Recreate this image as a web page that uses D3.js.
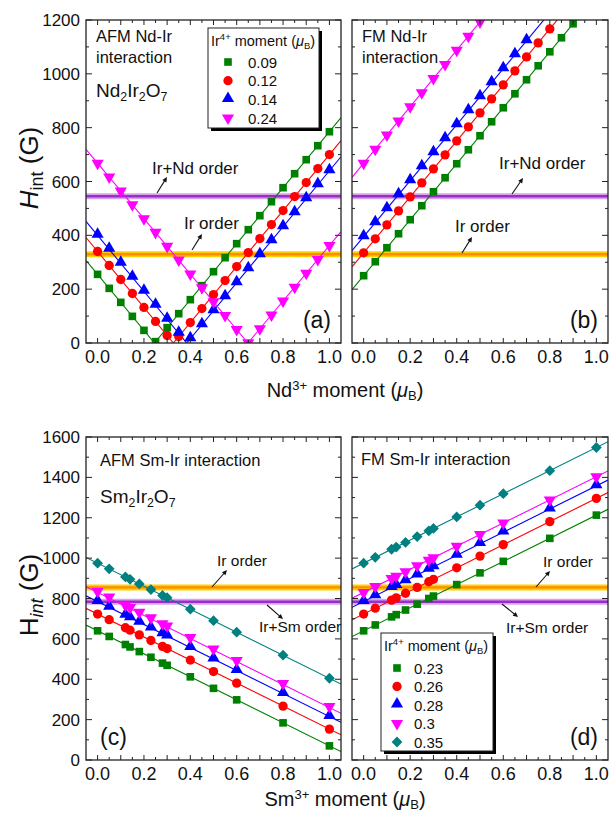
<!DOCTYPE html>
<html>
<head>
<meta charset="utf-8">
<script src="https://cdn.jsdelivr.net/npm/d3@7"></script>
<style>
  body { margin: 0; background: #fff; }
  text { font-family: "Liberation Sans", Arial, sans-serif; fill: #111; }
</style>
</head>
<body>
<div id="chart"></div>
<script>
// ---- data ----
var xTicks = [0, 0.2, 0.4, 0.6, 0.8, 1.0]

// Nd panels: Nd moment steps of 0.05
var mNd = [0, 0.05, 0.1, 0.15, 0.2, 0.25, 0.3, 0.35, 0.4, 0.45, 0.5, 0.55, 0.6, 0.65, 0.7, 0.75, 0.8, 0.85, 0.9, 0.95, 1.0]
var ndLabels = ['0.09', '0.12', '0.14', '0.24']

var afmNd009 = [255, 203, 151, 99, 47, 5, 57, 109, 161, 213, 265, 317, 369, 421, 473, 525, 577, 629, 681, 733, 785]
var afmNd012 = [340, 288, 236, 184, 132, 80, 28, 24, 76, 128, 180, 232, 284, 336, 388, 440, 492, 544, 596, 648, 700]
var afmNd014 = [400, 348, 296, 244, 192, 140, 88, 36, 16, 68, 120, 172, 224, 276, 328, 380, 432, 484, 536, 588, 640]
var afmNd024 = [668, 617, 565, 514, 462, 411, 359, 308, 256, 205, 153, 102, 50, 1, 53, 104, 156, 207, 259, 310, 362]

var fmNd009 = [250, 302, 354, 406, 458, 510, 562, 614, 666, 718, 770, 822, 874, 926, 978, 1030, 1082, 1134, 1186]
var fmNd012 = [335, 387, 439, 491, 543, 595, 647, 699, 751, 803, 855, 907, 959, 1011, 1063, 1115, 1167]
var fmNd014 = [395, 447, 499, 551, 603, 655, 707, 759, 811, 863, 915, 967, 1019, 1071, 1123]
var fmNd024 = [668, 720, 773, 825, 878, 930, 983, 1035, 1088, 1140, 1193]

// fitted lines (intercept, slope) for Nd panels
var afmNdFitA = [255, 340, 400, 668]
var afmNdFitB = [1040, 1040, 1040, 1030]
var fmNdFitA = [250, 335, 395, 668]
var fmNdFitB = [1040, 1040, 1040, 1050]

// Sm panels
var mSm = [0, 0.05, 0.12, 0.14, 0.18, 0.23, 0.28, 0.3, 0.4, 0.5, 0.6, 0.8, 1.0]
var smLabels = ['0.23', '0.26', '0.28', '0.3', '0.35']

var afmSm023 = [640, 612, 572, 560, 537, 509, 480, 469, 412, 355, 298, 184, 70]
var afmSm026 = [723, 695, 655, 643, 620, 592, 563, 552, 495, 438, 381, 267, 153]
var afmSm028 = [785, 757, 717, 705, 682, 654, 625, 614, 557, 500, 443, 329, 215]
var afmSm030 = [835, 807, 767, 755, 732, 704, 675, 664, 607, 550, 493, 379, 265]
var afmSm035 = [975, 947, 907, 895, 872, 844, 815, 804, 747, 690, 633, 519, 405]

var fmSm023 = [640, 669, 709, 720, 743, 772, 800, 812, 869, 927, 984, 1098, 1213]
var fmSm026 = [723, 752, 792, 803, 826, 855, 883, 895, 952, 1010, 1067, 1181, 1296]
var fmSm028 = [785, 814, 854, 865, 888, 917, 945, 957, 1014, 1072, 1129, 1243, 1358]
var fmSm030 = [830, 859, 899, 910, 933, 962, 990, 1002, 1059, 1117, 1174, 1288, 1403]
var fmSm035 = [975, 1004, 1044, 1055, 1078, 1107, 1135, 1147, 1204, 1262, 1319, 1433, 1548]

var smFitA = [640, 723, 785, 830, 975]
var afmSmFitB = [570, 570, 570, 570, 570]
var fmSmFitB = [573, 573, 573, 573, 573]

// order bands
var ndIrOrder = 330, ndIrNdOrder = 545
var smIrOrder = 855, smIrSmOrder = 784

var colors = ['#008000', '#ff0000', '#0000ff', '#ff00ff', '#008080']
var symbols = ['square', 'circle', 'up', 'down', 'diamond']

// ---- drawing ----
var width = 609, height = 816

var svg = d3.select('#chart')
  .append('svg')
  .attr('width', width)
  .attr('height', height)

function symbolPath(kind) {
  var s = d3.symbol()
  if (kind === 'square') return s.type(d3.symbolSquare).size(58)()
  if (kind === 'circle') return s.type(d3.symbolCircle).size(68)()
  if (kind === 'diamond') return s.type(d3.symbolSquare).size(58)()
  return s.type(d3.symbolTriangle).size(64)()
}

function marker(g, kind, color, x, y) {
  var t = 'translate(' + x + ',' + y + ')'
  if (kind === 'down') t += ' rotate(180)'
  if (kind === 'up') t += ' translate(0,-1)'
  if (kind === 'diamond') t += ' rotate(45)'
  g.append('path')
    .attr('d', symbolPath(kind))
    .attr('transform', t)
    .attr('fill', color)
}

function drawPanel(cfg) {
  var x = d3.scaleLinear().domain([-0.05, 1.05]).range([cfg.x0, cfg.x1])
  var y = d3.scaleLinear().domain([0, cfg.ymax]).range([cfg.y1, cfg.y0])
  var g = svg.append('g')

  var clipId = 'clip' + cfg.id
  svg.append('clipPath').attr('id', clipId)
    .append('rect')
    .attr('x', cfg.x0).attr('y', cfg.y0)
    .attr('width', cfg.x1 - cfg.x0).attr('height', cfg.y1 - cfg.y0)

  var inner = g.append('g').attr('clip-path', 'url(#' + clipId + ')')

  // order bands
  cfg.bands.forEach(function(b) {
    inner.append('line')
      .attr('x1', cfg.x0).attr('x2', cfg.x1)
      .attr('y1', y(b.value)).attr('y2', y(b.value))
      .attr('stroke', b.outer).attr('stroke-width', 6)
    inner.append('line')
      .attr('x1', cfg.x0).attr('x2', cfg.x1)
      .attr('y1', y(b.value)).attr('y2', y(b.value))
      .attr('stroke', b.inner).attr('stroke-width', 2.4)
  })

  var line = d3.line().x(function(d) { return x(d[0]) }).y(function(d) { return y(d[1]) })

  // fit lines
  cfg.series.forEach(function(s, i) {
    var A = cfg.fitA[i], B = cfg.fitB[i]
    var pts
    if (cfg.mode === 'afm-v') {
      pts = [[-0.05, A + 0.05 * B], [A / B, 0], [1.05, 1.05 * B - A]]
    } else if (cfg.mode === 'afm') {
      pts = [[-0.05, A + 0.05 * B], [1.05, A - 1.05 * B]]
    } else {
      pts = [[-0.05, A - 0.05 * B], [1.05, A + 1.05 * B]]
    }
    inner.append('path')
      .attr('d', line(pts))
      .attr('fill', 'none')
      .attr('stroke', colors[i])
      .attr('stroke-width', 1.1)
  })

  // data markers
  cfg.series.forEach(function(s, i) {
    s.forEach(function(v, j) {
      marker(inner, symbols[i], colors[i], x(cfg.m[j]), y(v))
    })
  })

  // frame
  g.append('rect')
    .attr('x', cfg.x0).attr('y', cfg.y0)
    .attr('width', cfg.x1 - cfg.x0).attr('height', cfg.y1 - cfg.y0)
    .attr('fill', 'none').attr('stroke', '#222').attr('stroke-width', 1.3)

  // x ticks every 0.05 (long every 0.1)
  d3.range(0, 21).forEach(function(k) {
    var v = k * 0.05
    var len = k % 2 === 0 ? 5 : 3
    g.append('line').attr('x1', x(v)).attr('x2', x(v))
      .attr('y1', cfg.y1).attr('y2', cfg.y1 - len).attr('stroke', '#222')
    g.append('line').attr('x1', x(v)).attr('x2', x(v))
      .attr('y1', cfg.y0).attr('y2', cfg.y0 + len).attr('stroke', '#222')
  })
  g.selectAll('.xt').data(xTicks).enter().append('text')
    .attr('x', function(d) { return x(d) })
    .attr('y', cfg.y1 + 20)
    .attr('text-anchor', 'middle')
    .attr('font-size', 18)
    .text(function(d) { return d3.format('.1f')(d) })

  // y ticks every 100 (long every 200)
  d3.range(0, cfg.ymax + 1, 100).forEach(function(v) {
    var len = v % 200 === 0 ? 6 : 3
    g.append('line').attr('x1', cfg.x0).attr('x2', cfg.x0 + len)
      .attr('y1', y(v)).attr('y2', y(v)).attr('stroke', '#222')
    g.append('line').attr('x1', cfg.x1).attr('x2', cfg.x1 - len)
      .attr('y1', y(v)).attr('y2', y(v)).attr('stroke', '#222')
  })
  if (cfg.yLabels) {
    g.selectAll('.yt').data(d3.range(0, cfg.ymax + 1, 200)).enter().append('text')
      .attr('x', cfg.x0 - 6)
      .attr('y', function(d) { return y(d) + 6 })
      .attr('text-anchor', 'end')
      .attr('font-size', 17)
      .text(function(d) { return d })
  }

  // panel tag
  g.append('text')
    .attr('x', cfg.tagLeft ? cfg.x0 + 14 : cfg.x1 - 10)
    .attr('y', cfg.y1 - 15)
    .attr('text-anchor', cfg.tagLeft ? 'start' : 'end')
    .attr('font-size', 23)
    .text(cfg.tag)

  return { x: x, y: y, g: g }
}

function arrow(g, x1, y1, x2, y2) {
  var ang = Math.atan2(y2 - y1, x2 - x1)
  g.append('line').attr('x1', x1).attr('y1', y1)
    .attr('x2', x2 - 4 * Math.cos(ang)).attr('y2', y2 - 4 * Math.sin(ang))
    .attr('stroke', '#111').attr('stroke-width', 1.1)
  var a = 5.5, w = 0.45
  var p = [[x2, y2],
    [x2 - a * Math.cos(ang - w), y2 - a * Math.sin(ang - w)],
    [x2 - a * Math.cos(ang + w), y2 - a * Math.sin(ang + w)]]
  g.append('path').attr('d', 'M' + p.join('L') + 'Z').attr('fill', '#111')
}

function label(g, x, y, txt, size) {
  g.append('text').attr('x', x).attr('y', y).attr('font-size', size || 16.5).text(txt)
}

function formula(g, x, y, el, size) {
  var t = g.append('text').attr('x', x).attr('y', y).attr('font-size', size)
  t.append('tspan').text(el)
  t.append('tspan').attr('font-size', size * 0.65).attr('dy', 4).text('2')
  t.append('tspan').attr('dy', -4).text('Ir')
  t.append('tspan').attr('font-size', size * 0.65).attr('dy', 4).text('2')
  t.append('tspan').attr('dy', -4).text('O')
  t.append('tspan').attr('font-size', size * 0.65).attr('dy', 4).text('7')
}

function legend(g, x, y, w, h, labels, rowStart, rowStep, mx, tx) {
  g.append('rect').attr('x', x + 3).attr('y', y + 3).attr('width', w).attr('height', h).attr('fill', '#000')
  g.append('rect').attr('x', x).attr('y', y).attr('width', w).attr('height', h)
    .attr('fill', '#fff').attr('stroke', '#222').attr('stroke-width', 1)
  var t = g.append('text').attr('x', x + 3).attr('y', y + 18).attr('font-size', 14.5)
  t.append('tspan').text('Ir')
  t.append('tspan').attr('font-size', 9.5).attr('dy', -6).text('4+')
  t.append('tspan').attr('dy', 6).text(' moment (')
  t.append('tspan').attr('font-style', 'italic').text('μ')
  t.append('tspan').attr('font-size', 9.5).attr('dy', 3).text('B')
  t.append('tspan').attr('dy', -3).text(')')
  labels.forEach(function(l, i) {
    var cy = rowStart + i * rowStep
    marker(g, symbols[i], colors[i], x + mx, cy)
    g.append('text').attr('x', x + tx).attr('y', cy + 5.5).attr('font-size', 15).text(l)
  })
}

var orangeBand = { outer: '#ffd000', inner: '#ff8c00' }
var purpleBand = { outer: '#d9a3ea', inner: '#9a2ec8' }

var pa = drawPanel({
  id: 'a', x0: 86, x1: 341, y0: 20, y1: 343, ymax: 1200, m: mNd, mode: 'afm-v',
  series: [afmNd009, afmNd012, afmNd014, afmNd024], fitA: afmNdFitA, fitB: afmNdFitB,
  bands: [Object.assign({ value: ndIrNdOrder }, purpleBand), Object.assign({ value: ndIrOrder }, orangeBand)],
  yLabels: true, tag: '(a)'
})
var pb = drawPanel({
  id: 'b', x0: 352, x1: 608, y0: 20, y1: 343, ymax: 1200, m: mNd, mode: 'fm',
  series: [fmNd009, fmNd012, fmNd014, fmNd024], fitA: fmNdFitA, fitB: fmNdFitB,
  bands: [Object.assign({ value: ndIrNdOrder }, purpleBand), Object.assign({ value: ndIrOrder }, orangeBand)],
  yLabels: false, tag: '(b)'
})
var pc = drawPanel({
  id: 'c', x0: 86, x1: 341, y0: 437, y1: 760, ymax: 1600, m: mSm, mode: 'afm',
  series: [afmSm023, afmSm026, afmSm028, afmSm030, afmSm035], fitA: smFitA, fitB: afmSmFitB,
  bands: [Object.assign({ value: smIrOrder }, orangeBand), Object.assign({ value: smIrSmOrder }, purpleBand)],
  yLabels: true, tag: '(c)', tagLeft: true
})
var pd = drawPanel({
  id: 'd', x0: 352, x1: 608, y0: 437, y1: 760, ymax: 1600, m: mSm, mode: 'fm',
  series: [fmSm023, fmSm026, fmSm028, fmSm030, fmSm035], fitA: smFitA, fitB: fmSmFitB,
  bands: [Object.assign({ value: smIrOrder }, orangeBand), Object.assign({ value: smIrSmOrder }, purpleBand)],
  yLabels: false, tag: '(d)'
})

// panel (a) annotations
label(pa.g, 96, 42, 'AFM Nd-Ir')
label(pa.g, 96, 63, 'interaction')
formula(pa.g, 96, 97, 'Nd', 19)
legend(pa.g, 208, 28, 111, 100, ndLabels, 62, 18.7, 20, 40)
label(pa.g, 152, 174, 'Ir+Nd order', 17)
arrow(pa.g, 157, 193, 167, 177)
label(pa.g, 184, 229, 'Ir order', 17)
arrow(pa.g, 192, 250, 202, 234)

// panel (b)
label(pb.g, 362, 42, 'FM Nd-Ir')
label(pb.g, 362, 63, 'interaction')
label(pb.g, 499, 169, 'Ir+Nd order', 17)
arrow(pb.g, 512, 194, 523, 178)
label(pb.g, 455, 232, 'Ir order', 17)
arrow(pb.g, 462, 253, 472, 237)

// panel (c)
label(pc.g, 100, 466, 'AFM Sm-Ir interaction')
formula(pc.g, 100, 503, 'Sm', 19)
label(pc.g, 217, 566, 'Ir order', 15.5)
arrow(pc.g, 212, 587, 227, 570)
label(pc.g, 259, 632, 'Ir+Sm order', 15.5)
arrow(pc.g, 267, 605, 283, 619)

// panel (d)
label(pd.g, 361, 465, 'FM Sm-Ir interaction')
label(pd.g, 543, 567, 'Ir order', 15.5)
arrow(pd.g, 536, 587, 550, 571)
label(pd.g, 506, 633, 'Ir+Sm order', 15.5)
arrow(pd.g, 502, 604, 518, 617)
legend(pd.g, 381, 633, 112, 118, smLabels, 668, 18.5, 16, 33)

// axis titles
function yTitle(cx, cy, italicH) {
  var t = svg.append('text')
    .attr('transform', 'translate(' + cx + ',' + cy + ') rotate(-90)')
    .attr('text-anchor', 'middle')
    .attr('font-size', 26)
  if (italicH) {
    t.append('tspan').attr('font-style', 'italic').text('H')
    t.append('tspan').attr('font-size', 18).attr('dy', 5).text('int')
  } else {
    t.append('tspan').text('H')
    t.append('tspan').attr('font-size', 18).attr('dy', 5).attr('font-style', 'italic').text('int')
  }
  t.append('tspan').attr('dy', -5).text(' (G)')
}
yTitle(38, 168, true)
yTitle(38, 595, false)

function xTitle(cx, by, el) {
  var t = svg.append('text').attr('x', cx).attr('y', by).attr('text-anchor', 'middle').attr('font-size', 20)
  t.append('tspan').text(el)
  t.append('tspan').attr('font-size', 13).attr('dy', -7).text('3+')
  t.append('tspan').attr('dy', 7).text(' moment (')
  t.append('tspan').attr('font-style', 'italic').text('μ')
  t.append('tspan').attr('font-size', 13).attr('dy', 3).text('B')
  t.append('tspan').attr('dy', -3).text(')')
}
xTitle(345, 397, 'Nd')
xTitle(345, 806, 'Sm')
</script>
</body>
</html>
